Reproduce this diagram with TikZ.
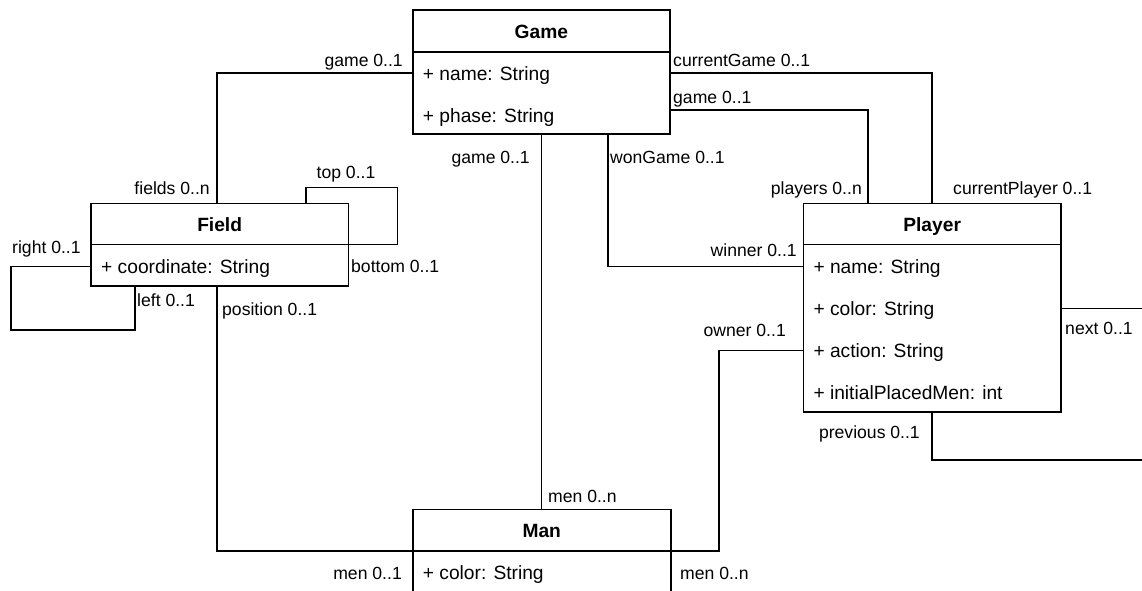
\documentclass[tikz,border=0pt]{standalone}
\usepackage{fontspec}
\setmainfont{Liberation Sans}
\begin{document}
\begin{tikzpicture}[x=1pt,y=-1pt,
  box/.style={draw, line width=1.6pt, rectangle, inner sep=0pt, outer sep=0pt, anchor=north west},
  conn/.style={line width=1.6pt},
  sep/.style={line width=1.6pt},
  ttl/.style={font=\fontsize{19.2}{23}\selectfont\bfseries, inner sep=0pt, anchor=base},
  attr/.style={font=\fontsize{19.2}{23}\selectfont, inner sep=0pt, anchor=base west},
  lbl/.style={font=\fontsize{17.6}{21}\selectfont, inner sep=0pt}
]
\useasboundingbox (0,0) rectangle (1142,590);
\clip (0,0) rectangle (1142,590);

% boxes
\node[box, minimum width=257.3pt, minimum height=124pt] (game) at (412.7,10) {};
\node[box, minimum width=257.3pt, minimum height=82.4pt] (field) at (91,203.3) {};
\node[box, minimum width=257.7pt, minimum height=208.4pt] (player) at (803.3,203.3) {};
\node[box, minimum width=258pt, minimum height=120pt] (man) at (412.7,509.3) {};

% separators
\draw[sep] ([yshift=-41.7pt]game.north west) -- ([yshift=-41.7pt]game.north east);
\draw[sep] ([yshift=-41pt]field.north west) -- ([yshift=-41pt]field.north east);
\draw[sep] ([yshift=-41pt]player.north west) -- ([yshift=-41pt]player.north east);
\draw[sep] ([yshift=-41.7pt]man.north west) -- ([yshift=-41.7pt]man.north east);

% titles
\node[ttl] (gameT) at ([yshift=-28pt]game.north) {Game};
\node[ttl] (fieldT) at ([yshift=-28pt]field.north) {Field};
\node[ttl] (playerT) at ([yshift=-28pt]player.north) {Player};
\node[ttl] (manT) at ([yshift=-28pt]man.north) {Man};

% attributes
\node[attr] (g1) at ([xshift=10pt,yshift=-70pt]game.north west) {+ name: String};
\node[attr] (g2) at ([xshift=10pt,yshift=-112pt]game.north west) {+ phase: String};
\node[attr] (f1) at ([xshift=10pt,yshift=-70pt]field.north west) {+ coordinate: String};
\node[attr] (p1) at ([xshift=10pt,yshift=-70pt]player.north west) {+ name: String};
\node[attr] (p2) at ([xshift=10pt,yshift=-112pt]player.north west) {+ color: String};
\node[attr] (p3) at ([xshift=10pt,yshift=-154pt]player.north west) {+ action: String};
\node[attr] (p4) at ([xshift=10pt,yshift=-196pt]player.north west) {+ initialPlacedMen: int};
\node[attr] (m1) at ([xshift=10pt,yshift=-70pt]man.north west) {+ color: String};

% connectors
\draw[conn] ([yshift=-63pt]game.north west) -| ([xshift=126pt]field.north west);
\draw[conn] ([xshift=215pt]field.north west) |- ([xshift=49pt,yshift=16pt]field.north east) |- ([yshift=-41pt]field.north east);
\draw[conn] ([yshift=-63pt]field.north west) -| ([xshift=-80pt,yshift=-44pt]field.south west) -| ([xshift=44pt]field.south west);
\draw[conn] ([xshift=126pt]field.south west) |- ([yshift=-41.7pt]man.north west);
\draw[conn] (game.south) -- (game.south |- man.north);
\draw[conn] ([xshift=195.3pt]game.south west) |- ([yshift=-63pt]player.north west);
\draw[conn] ([yshift=-63pt]game.north east) -| (player.north);
\draw[conn] ([yshift=-100pt]game.north east) -| ([xshift=-64.4pt]player.north);
\draw[conn] ([yshift=-147pt]player.north west) -| ([xshift=48.3pt,yshift=-41.7pt]man.north east) -- ([yshift=-41.7pt]man.north east);
\coordinate (loopc) at (1180,460);
\draw[conn] ([yshift=-105pt]player.north east) -| (loopc) -| (player.south);

% labels
\node[lbl, anchor=base east] (l1) at (403,66) {game 0..1};
\node[lbl, anchor=base east] (l2) at (210,194) {fields 0..n};
\node[lbl, anchor=base] (l3) at (346,178) {top 0..1};
\node[lbl, anchor=base west] (l4) at (351,272) {bottom 0..1};
\node[lbl, anchor=base west] (l5) at (12,253) {right 0..1};
\node[lbl, anchor=base west] (l6) at (137,306) {left 0..1};
\node[lbl, anchor=base west] (l7) at (222,315) {position 0..1};
\node[lbl, anchor=base east] (l8) at (402,579) {men 0..1};
\node[lbl, anchor=base east] (l9) at (530,163) {game 0..1};
\node[lbl, anchor=base west] (l10) at (548,502) {men 0..n};
\node[lbl, anchor=base west] (l11) at (610,163) {wonGame 0..1};
\node[lbl, anchor=base east] (l12) at (797,256) {winner 0..1};
\node[lbl, anchor=base west] (l13) at (673,66) {currentGame 0..1};
\node[lbl, anchor=base west] (l14) at (673,103) {game 0..1};
\node[lbl, anchor=base east] (l15) at (862,194) {players 0..n};
\node[lbl, anchor=base west] (l16) at (953,194) {currentPlayer 0..1};
\node[lbl, anchor=base east] (l17) at (786,336) {owner 0..1};
\node[lbl, anchor=base west] (l18) at (680,579) {men 0..n};
\node[lbl, anchor=base west] (l19) at (1065,334) {next 0..1};
\node[lbl, anchor=base east] (l20) at (920,438) {previous 0..1};
\end{tikzpicture}
\end{document}
